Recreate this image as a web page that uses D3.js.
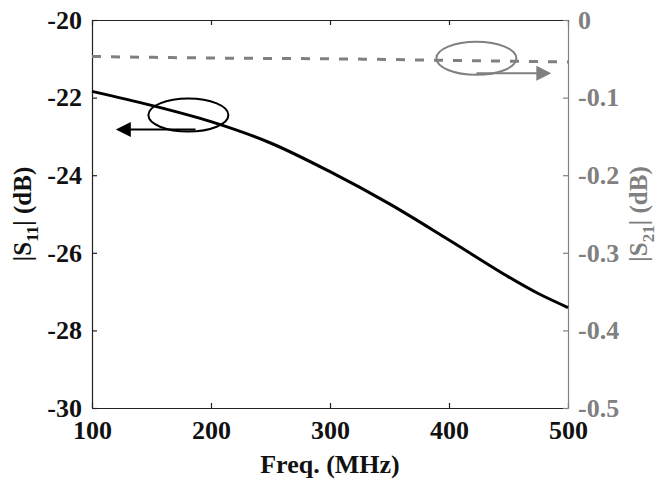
<!DOCTYPE html>
<html>
<head>
<meta charset="utf-8">
<script src="https://cdn.jsdelivr.net/npm/d3@7"></script>
<style>
  body { margin: 0; background: #fff; }
  text { font-family: "Liberation Serif", "Times New Roman", serif; font-weight: bold; }
</style>
</head>
<body>
<div id="graphContainer"></div>
<script>
// frequency points (MHz) and |S11|, |S21|
var freq = [100, 150, 200, 250, 300, 350, 400, 450, 475, 500];
var s11  = [-21.84, -22.20, -22.62, -23.17, -23.91, -24.74, -25.67, -26.62, -27.05, -27.41];
var s21Freq = [100, 200, 300, 400, 500];
var s21 = [-0.047, -0.049, -0.050, -0.052, -0.054];

var xTicks = [100, 200, 300, 400, 500];
var leftTicks = [-20, -22, -24, -26, -28, -30];
var rightTicks = [0, -0.1, -0.2, -0.3, -0.4, -0.5];

// annotation ellipses + arrows (freq, value on own axis)
var leftNote = { cx: 181, cy: -22.45, arrowY: -22.82, from: 187, to: 120 };
var rightNote = { cx: 423, cy: -0.0494, arrowY: -0.0687, from: 423, to: 486 };

var width = 657, height = 479;
var margin = { left: 92, right: 89, top: 20, bottom: 71 };
var grey = "#808080";

var svg = d3.select("#graphContainer")
  .append("svg")
    .attr("width", width)
    .attr("height", height);

var x = d3.scaleLinear().domain([100, 500]).range([margin.left, width - margin.right]);
var yL = d3.scaleLinear().domain([-30, -20]).range([height - margin.bottom, margin.top]);
var yR = d3.scaleLinear().domain([-0.5, 0]).range([height - margin.bottom, margin.top]);

var fs = "26px";
function hyphen(f) { return function(d) { return f(d).replace("\u2212", "-"); }; }

// axes: ticks point inward
var axBottom = svg.append("g")
  .attr("transform", `translate(0, ${height - margin.bottom})`)
  .call(d3.axisBottom(x).tickValues(xTicks).tickSizeInner(-5).tickSizeOuter(0).tickPadding(8));
axBottom.selectAll("text").style("font-size", fs).attr("fill", "#111").attr("dy", "0.9em");

var axTop = svg.append("g")
  .attr("transform", `translate(0, ${margin.top})`)
  .call(d3.axisTop(x).tickValues(xTicks).tickSizeInner(-5).tickSizeOuter(0).tickFormat(""));

var axLeft = svg.append("g")
  .attr("transform", `translate(${margin.left}, 0)`)
  .call(d3.axisLeft(yL).tickValues(leftTicks).tickSizeInner(-5).tickSizeOuter(0).tickPadding(10)
    .tickFormat(hyphen(d3.format("d"))));
axLeft.selectAll("text").style("font-size", fs).attr("fill", "#111");

var axRight = svg.append("g")
  .attr("transform", `translate(${width - margin.right}, 0)`)
  .call(d3.axisRight(yR).tickValues(rightTicks).tickSizeInner(-5).tickSizeOuter(0).tickPadding(10)
    .tickFormat(function(d) { return d === 0 ? "0" : hyphen(d3.format(".1f"))(d); }));
axRight.selectAll("text").style("font-size", fs).attr("fill", grey);

[axBottom, axTop, axLeft].forEach(function(g) {
  g.selectAll("path, line").attr("stroke", "#222").attr("stroke-width", 1.2);
});
axRight.selectAll("path, line").attr("stroke", grey).attr("stroke-width", 1.2);

// S21 dashed
var line21 = d3.line()
  .x(function(d, i) { return x(s21Freq[i]); })
  .y(function(d) { return yR(d); })
  .curve(d3.curveMonotoneX);
svg.append("path")
  .datum(s21)
  .attr("d", line21)
  .attr("fill", "none")
  .attr("stroke", grey)
  .attr("stroke-width", 3)
  .attr("stroke-dasharray", "9,10");

// S11 solid
var line11 = d3.line()
  .x(function(d, i) { return x(freq[i]); })
  .y(function(d) { return yL(d); })
  .curve(d3.curveCatmullRom);
svg.append("path")
  .datum(s11)
  .attr("d", line11)
  .attr("fill", "none")
  .attr("stroke", "#000")
  .attr("stroke-width", 3);

// annotations
function note(n, yScale, color) {
  var g = svg.append("g");
  g.append("ellipse")
    .attr("cx", x(n.cx)).attr("cy", yScale(n.cy))
    .attr("rx", 40).attr("ry", 16.5)
    .attr("fill", "none").attr("stroke", color).attr("stroke-width", 2);
  var ay = yScale(n.arrowY), x0 = x(n.from), x1 = x(n.to);
  var dir = x1 > x0 ? 1 : -1;
  g.append("line")
    .attr("x1", x0).attr("y1", ay)
    .attr("x2", x1 - dir * 12).attr("y2", ay)
    .attr("stroke", color).attr("stroke-width", 2);
  g.append("path")
    .attr("d", `M${x1},${ay} L${x1 - dir * 15},${ay - 7.5} L${x1 - dir * 15},${ay + 7.5} Z`)
    .attr("fill", color);
}
note(leftNote, yL, "#000");
note(rightNote, yR, grey);

// titles
svg.append("text")
  .attr("x", x(300)).attr("y", 473)
  .attr("text-anchor", "middle")
  .style("font-size", "26px")
  .attr("fill", "#111")
  .text("Freq. (MHz)");

function yTitle(xp, sub, color) {
  var t = svg.append("text")
    .attr("transform", `translate(${xp}, ${(margin.top + height - margin.bottom) / 2}) rotate(-90)`)
    .attr("text-anchor", "middle")
    .style("font-size", "25px")
    .attr("fill", color);
  t.append("tspan").text("|S");
  t.append("tspan").attr("dy", 7).style("font-size", "17px").text(sub);
  t.append("tspan").attr("dy", -7).text("| (dB)");
}
yTitle(31, "11", "#111");
yTitle(647, "21", grey);
</script>
</body>
</html>
